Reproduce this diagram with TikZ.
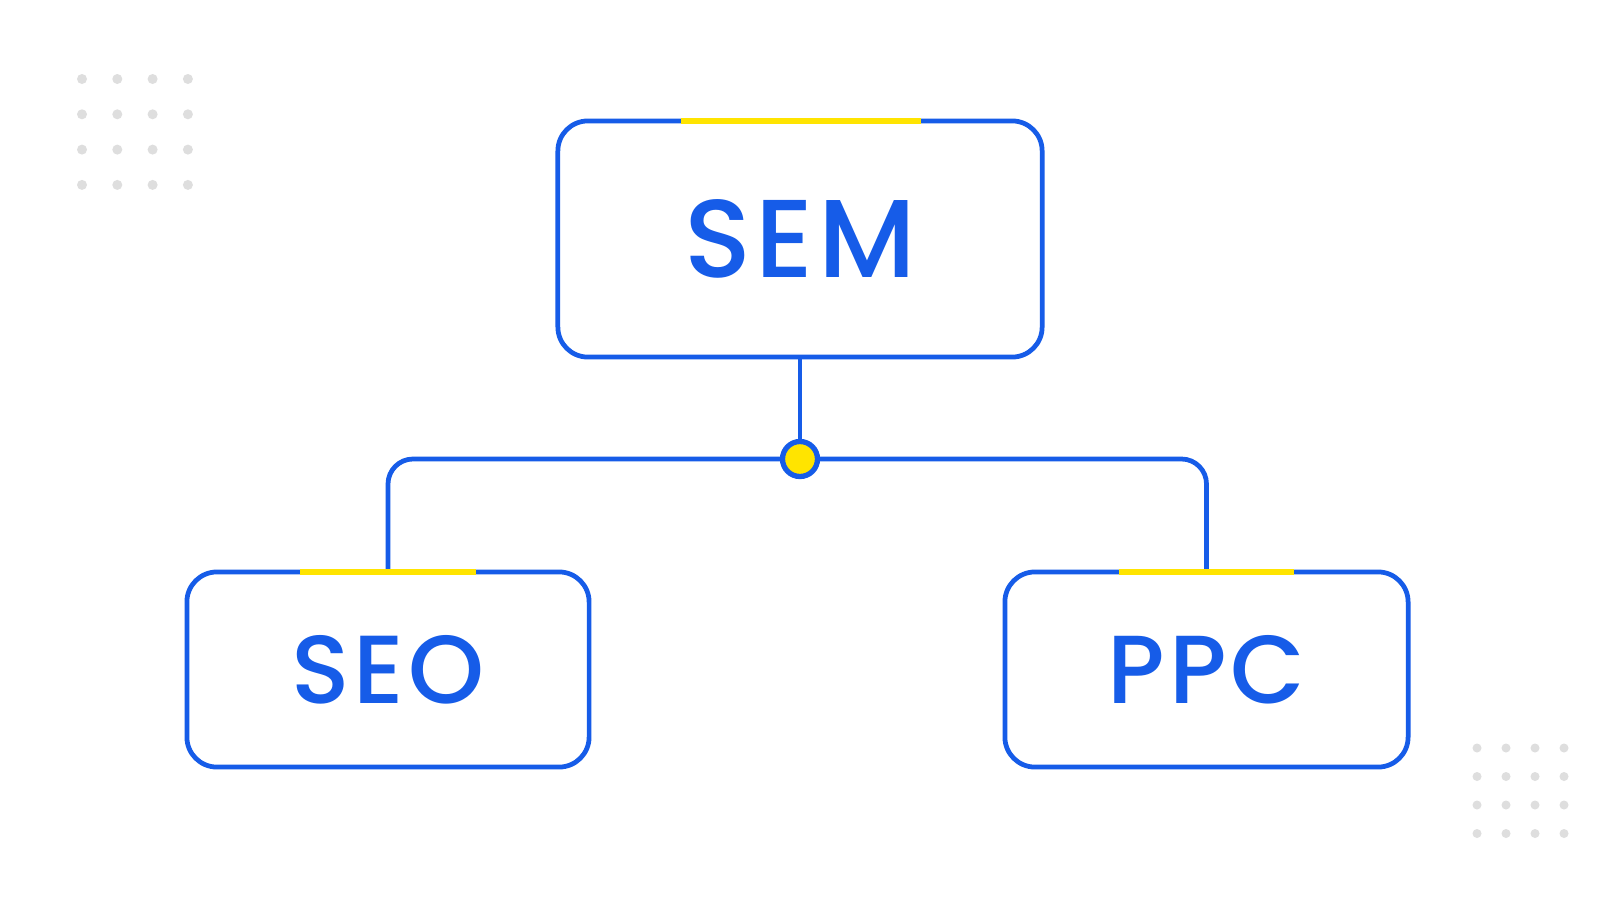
\documentclass[tikz,border=0pt]{standalone}
\usepackage{fontspec}
\setmainfont{Poppins}
\newfontfamily\labelfont{Poppins Medium}[LetterSpace=4]
\definecolor{semblue}{RGB}{22,92,232}
\definecolor{semyellow}{RGB}{255,228,0}
\definecolor{dotgray}{RGB}{222,222,222}
\tikzset{
  termbox/.style={draw=semblue, line width=1.35pt, rounded corners=0.3cm, fill=white,
    outer sep=0pt, text=semblue},
  link/.style={draw=semblue, line width=1.35pt, rounded corners=0.25cm},
  topbar/.style={draw=semyellow, line width=1.8pt},
}
\begin{document}
\begin{tikzpicture}[x=0.01cm,y=0.01cm]
  \fill[white!97!black!3] (0,0) rectangle (1600,914);
  \useasboundingbox (0,0) rectangle (1600,914);
  % dot grids
  \foreach \i in {0,...,3}
    \foreach \j in {0,...,3}
      \fill[dotgray] (82+35.3*\i, 835-35.3*\j) circle (5);
  \foreach \i in {0,...,3}
    \foreach \j in {0,...,3}
      \fill[dotgray] (1477+29*\i, 166-28.5*\j) circle (4.5);

  \node[termbox, minimum width=4.84cm, minimum height=2.36cm, font=\labelfont\fontsize{31.5}{31.5}\selectfont]
    (sem) at (800,675) {SEM};
  \node[termbox, minimum width=4.02cm, minimum height=1.95cm, font=\labelfont\fontsize{27.5}{27.5}\selectfont]
    (seo) at (388,244.5) {SEO};
  \node[termbox, minimum width=4.03cm, minimum height=1.95cm, font=\labelfont\fontsize{27.5}{27.5}\selectfont]
    (ppc) at (1206.5,244.5) {PPC};

  \coordinate (hub) at (800,455);
  \draw[link] (sem.south) -- (hub);
  \draw[link] (hub) -| (seo.north);
  \draw[link] (hub) -| (ppc.north);

  \draw[topbar] ([xshift=-1.19cm]sem.north) -- ([xshift=1.21cm]sem.north);
  \draw[topbar] ([xshift=-0.875cm]seo.north) -- ([xshift=0.875cm]seo.north);
  \draw[topbar] ([xshift=-0.875cm]ppc.north) -- ([xshift=0.875cm]ppc.north);

  \filldraw[fill=semyellow, draw=semblue, line width=1.5pt] (hub) circle (17.5);
\end{tikzpicture}
\end{document}
